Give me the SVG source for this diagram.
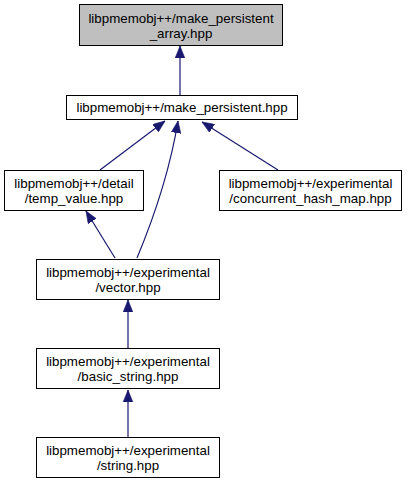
<svg xmlns="http://www.w3.org/2000/svg" width="407" height="484" viewBox="0 0 407 484">
<style>
.box{fill:#ffffff;stroke:#000000;stroke-width:1}
.cur{fill:#bfbfbf}
text{font-family:"Liberation Sans",Arial,sans-serif;font-size:13.33px;text-anchor:middle;fill:#000000}
.edge{fill:none;stroke:#191970;stroke-width:1.2}
</style>
<defs>
<marker id="arr" viewBox="0 0 10 8" refX="10" refY="4" markerWidth="12" markerHeight="9.6" markerUnits="userSpaceOnUse" orient="auto">
<polygon points="0,0 10,4 0,8" fill="#191970" stroke="#191970" stroke-width="0.5"/>
</marker>
</defs>
<g id="edges">
<path class="edge" d="M180,95 L180,46" marker-end="url(#arr)"/>
<path class="edge" d="M100,170 L165,121" marker-end="url(#arr)"/>
<path class="edge" d="M137,258 C152,222 170,170 178,121" marker-end="url(#arr)"/>
<path class="edge" d="M278,170 L202,122" marker-end="url(#arr)"/>
<path class="edge" d="M115,258 L86,211" marker-end="url(#arr)"/>
<path class="edge" d="M128,348 L128,300" marker-end="url(#arr)"/>
<path class="edge" d="M128,437 L128,390" marker-end="url(#arr)"/>
</g>
<g id="node1">
<rect class="box cur" x="79.5" y="4.5" width="203" height="41"/>
<text x="181" y="22.5">libpmemobj++/make_persistent</text>
<text x="181" y="37.5">_array.hpp</text>
</g>
<g id="node2">
<rect class="box" x="66.5" y="95.5" width="231" height="24"/>
<text x="182" y="112">libpmemobj++/make_persistent.hpp</text>
</g>
<g id="node3">
<rect class="box" x="4.5" y="170.5" width="139" height="40"/>
<text x="74" y="187.5">libpmemobj++/detail</text>
<text x="74" y="202.5">/temp_value.hpp</text>
</g>
<g id="node4">
<rect class="box" x="219.5" y="170.5" width="182" height="40"/>
<text x="310.5" y="187.5">libpmemobj++/experimental</text>
<text x="310.5" y="202.5">/concurrent_hash_map.hpp</text>
</g>
<g id="node5">
<rect class="box" x="36.5" y="259.5" width="183" height="40"/>
<text x="128" y="276.5">libpmemobj++/experimental</text>
<text x="128" y="291.5">/vector.hpp</text>
</g>
<g id="node6">
<rect class="box" x="36.5" y="348.5" width="183" height="40"/>
<text x="128" y="365.5">libpmemobj++/experimental</text>
<text x="128" y="380.5">/basic_string.hpp</text>
</g>
<g id="node7">
<rect class="box" x="36.5" y="437.5" width="183" height="40"/>
<text x="128" y="454.5">libpmemobj++/experimental</text>
<text x="128" y="469.5">/string.hpp</text>
</g>
</svg>
